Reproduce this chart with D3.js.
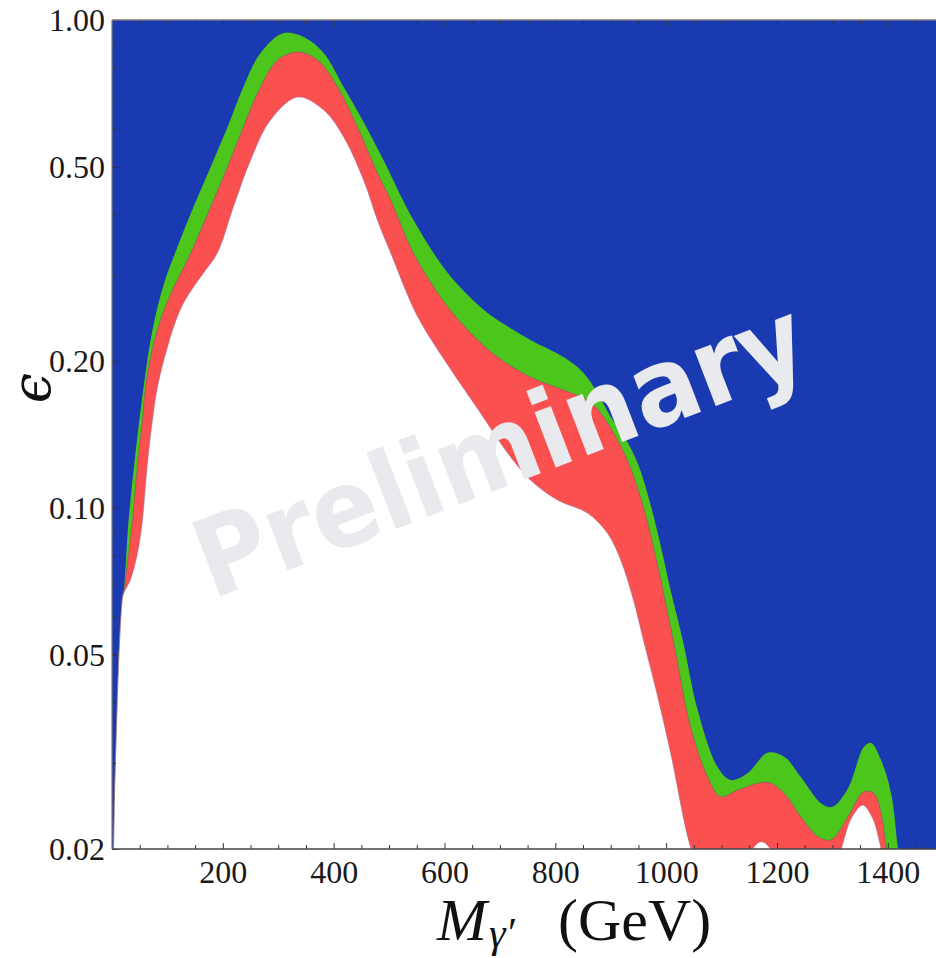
<!DOCTYPE html>
<html>
<head>
<meta charset="utf-8">
<script src="https://cdn.jsdelivr.net/npm/d3@7"></script>
<style>
  html, body { margin: 0; padding: 0; background: #ffffff; }
  svg { display: block; }
</style>
</head>
<body>
<svg id="chart" width="936" height="958"></svg>
<script>
// ---------- data (M in GeV, epsilon) ----------
const greenM   = [0, 2.7, 4.5, 8, 12, 19, 22, 30, 42.4, 57, 73, 93, 118, 147, 178, 208.5, 237, 268, 309.5, 346, 382, 418, 454, 490, 544, 606, 665, 696, 755, 815, 851, 876, 900, 925, 950, 972, 990, 1008, 1030, 1057, 1093, 1116, 1147, 1183, 1213, 1243, 1280, 1300, 1328, 1357, 1370, 1388, 1406, 1418, 1430, 1490];
const greenEps = [0.015, 0.020, 0.026, 0.0356, 0.0488, 0.0657, 0.069, 0.0945, 0.1296, 0.1769, 0.2316, 0.2863, 0.3425, 0.4137, 0.4996, 0.6034, 0.729, 0.8558, 0.9405, 0.923, 0.8558, 0.729, 0.618, 0.516, 0.389, 0.3031, 0.2581, 0.2427, 0.221, 0.2038, 0.189, 0.172, 0.1536, 0.1397, 0.1224, 0.1014, 0.0839, 0.0679, 0.0536, 0.0385, 0.0294, 0.0277, 0.0286, 0.0315, 0.0309, 0.0281, 0.0248, 0.0244, 0.0266, 0.0324, 0.033, 0.0304, 0.026, 0.0202, 0.016, 0.012];

const redM   = [0, 2.7, 4.5, 8, 12, 19, 21, 30, 37, 42.4, 48, 55, 60.5, 71.3, 87.5, 109.2, 134.5, 147, 178, 208.5, 237, 268, 299, 335, 371, 407, 443, 479, 503, 544, 606, 660, 696, 755, 815, 858, 882, 905, 930, 959, 985, 1014, 1044, 1075, 1098, 1129, 1183, 1213, 1243, 1274, 1298, 1328, 1357, 1375, 1388, 1397, 1410, 1490];
const redEps = [0.015, 0.020, 0.026, 0.0356, 0.0488, 0.0657, 0.0669, 0.0808, 0.0945, 0.1104, 0.1296, 0.1515, 0.1769, 0.2077, 0.2427, 0.2797, 0.3192, 0.3425, 0.4137, 0.4996, 0.6034, 0.729, 0.828, 0.860, 0.828, 0.729, 0.6034, 0.4857, 0.4276, 0.333, 0.2581, 0.221, 0.2038, 0.1855, 0.1744, 0.1664, 0.1565, 0.1424, 0.1254, 0.1004, 0.076, 0.0528, 0.0356, 0.0281, 0.0256, 0.0264, 0.0274, 0.026, 0.0233, 0.0212, 0.0209, 0.0233, 0.0262, 0.026, 0.0237, 0.0202, 0.016, 0.012];

const whiteM   = [0, 2.7, 4.5, 8, 12, 19, 21, 33, 46, 55, 60, 66, 73, 82, 97, 114, 129, 147, 165, 190, 219, 250, 286, 335, 382, 418, 454, 479, 503, 551, 606, 665, 714, 755, 804, 858, 894, 918, 941, 959, 983, 1008, 1044, 1070, 1110, 1150, 1172, 1194, 1230, 1290, 1316, 1335, 1355, 1372, 1388, 1405, 1490];
const whiteEps = [0.015, 0.020, 0.026, 0.0356, 0.0488, 0.0657, 0.0669, 0.0712, 0.0808, 0.0945, 0.110, 0.130, 0.1515, 0.177, 0.2077, 0.240, 0.263, 0.2836, 0.303, 0.333, 0.414, 0.516, 0.624, 0.695, 0.654, 0.576, 0.470, 0.389, 0.333, 0.2473, 0.1963, 0.1565, 0.1296, 0.1141, 0.1038, 0.0976, 0.0888, 0.0782, 0.0648, 0.0536, 0.0418, 0.0315, 0.0202, 0.017, 0.016, 0.0196, 0.0207, 0.0196, 0.016, 0.016, 0.0200, 0.0232, 0.0246, 0.0232, 0.0200, 0.016, 0.012];

const xTicks = [200, 400, 600, 800, 1000, 1200, 1400];
const xTickLabels = ["200", "400", "600", "800", "1000", "1200", "1400"];
const yTicks = [0.02, 0.05, 0.10, 0.20, 0.50, 1.00];
const yTickLabels = ["0.02", "0.05", "0.10", "0.20", "0.50", "1.00"];
const yMinorTicks = [0.03, 0.04, 0.06, 0.07, 0.08, 0.09, 0.3, 0.4, 0.6, 0.7, 0.8, 0.9];
const xDomain = [0, 1487];
const yDomain = [0.02, 1];
const watermark = "Preliminary";

(function () {
// ---------- layout ----------
const svg = d3.select("#chart");
const pL = 112, pR = 936, pT = 20, pB = 849;
const x = d3.scaleLinear().domain(xDomain).range([pL, pR]);
const y = d3.scaleLog().domain(yDomain).range([pB, pT]);

const defs = svg.append("defs");
defs.append("clipPath").attr("id", "plotclip")
  .append("rect").attr("x", pL).attr("y", pT)
  .attr("width", pR - pL).attr("height", pB - pT);

const plot = svg.append("g").attr("clip-path", "url(#plotclip)");

plot.append("rect").attr("x", pL).attr("y", pT)
  .attr("width", pR - pL).attr("height", pB - pT)
  .attr("fill", "#1a3ab2");

function zipData(ms, es) { return ms.map((m, i) => ({ m: m, e: es[i] })); }

const curve = d3.curveCatmullRom.alpha(0.5);
const area = d3.area()
  .x(d => x(d.m))
  .y0(pB + 40)
  .y1(d => y(d.e))
  .curve(curve);
const line = d3.line()
  .x(d => x(d.m))
  .y(d => y(d.e))
  .curve(curve);

const layers = [
  { data: zipData(greenM, greenEps), fill: "#4cc61b", stroke: null },
  { data: zipData(redM, redEps), fill: "#fb5050", stroke: "#6d4f78" },
  { data: zipData(whiteM, whiteEps), fill: "#ffffff", stroke: "#8a6a8e" }
];
layers.forEach(L => {
  plot.append("path").datum(L.data).attr("d", area).attr("fill", L.fill);
});
layers.forEach(L => {
  if (L.stroke) {
    plot.append("path").datum(L.data).attr("d", line)
      .attr("fill", "none").attr("stroke", L.stroke)
      .attr("stroke-width", 0.9).attr("stroke-opacity", 0.55);
  }
});

// watermark
svg.append("text")
  .attr("transform", "translate(513,484) rotate(-21)")
  .attr("text-anchor", "middle")
  .attr("font-family", "'DejaVu Sans', Verdana, sans-serif")
  .attr("font-weight", "bold")
  .attr("font-size", 108)
  .attr("textLength", 645)
  .attr("lengthAdjust", "spacingAndGlyphs")
  .attr("fill", "#e9eaee")
  .text(watermark);

// ---------- axes ----------
const serif = "'Liberation Serif', 'Times New Roman', 'DejaVu Serif', serif";

const xMinorVals = d3.range(50, xDomain[1], 50).filter(v => !xTicks.includes(v));
svg.append("g").attr("transform", `translate(0,${pB})`)
  .call(d3.axisBottom(x).tickValues(xTicks)
    .tickFormat((d, i) => xTickLabels[i]).tickSizeInner(-6).tickSizeOuter(0).tickPadding(11));
svg.append("g").attr("transform", `translate(0,${pB})`)
  .call(d3.axisBottom(x).tickValues(xMinorVals).tickFormat("").tickSizeInner(-4).tickSizeOuter(0));

svg.append("g").attr("transform", `translate(0,${pT})`)
  .call(d3.axisTop(x).tickValues(xTicks).tickFormat("").tickSizeInner(-6).tickSizeOuter(0));
svg.append("g").attr("transform", `translate(0,${pT})`)
  .call(d3.axisTop(x).tickValues(xMinorVals).tickFormat("").tickSizeInner(-4).tickSizeOuter(0));

svg.append("g").attr("transform", `translate(${pL},0)`)
  .call(d3.axisLeft(y).tickValues(yTicks)
    .tickFormat((d, i) => yTickLabels[i]).tickSizeInner(-6).tickSizeOuter(0).tickPadding(7));
svg.append("g").attr("transform", `translate(${pL},0)`)
  .call(d3.axisLeft(y).tickValues(yMinorTicks).tickFormat("").tickSizeInner(-4).tickSizeOuter(0));

svg.selectAll(".tick line").attr("stroke", "#333").attr("stroke-width", 1);
svg.selectAll(".domain").attr("stroke", "none");
svg.selectAll(".tick text")
  .attr("font-family", serif).attr("font-size", 32).attr("fill", "#1a1a1a");

// frame
svg.append("line").attr("x1", pL).attr("x2", pR).attr("y1", pB).attr("y2", pB)
  .attr("stroke", "#444").attr("stroke-width", 1.5);
svg.append("line").attr("x1", pL).attr("x2", pR).attr("y1", pT).attr("y2", pT)
  .attr("stroke", "#777").attr("stroke-width", 1.5);
svg.append("line").attr("x1", pL).attr("x2", pL).attr("y1", pT).attr("y2", pB)
  .attr("stroke", "#777").attr("stroke-width", 1.2);

// axis titles
const xt = svg.append("text").attr("y", 940).attr("font-family", serif).attr("fill", "#111");
xt.append("tspan").attr("x", 437).attr("font-style", "italic").attr("font-size", 60).text("M");
xt.append("tspan").attr("font-style", "italic").attr("font-size", 42).attr("dx", 2).attr("dy", 7).text("γ′");
xt.append("tspan").attr("x", 558).attr("dy", -7).attr("font-size", 60).text("(GeV)");

svg.append("text")
  .attr("transform", "translate(50,388) rotate(-90)")
  .attr("text-anchor", "middle")
  .attr("font-family", "'DejaVu Serif', 'Liberation Serif', serif")
  .attr("font-style", "italic")
  .attr("font-size", 54)
  .attr("fill", "#111")
  .text("ϵ");
})();
</script>
</body>
</html>
